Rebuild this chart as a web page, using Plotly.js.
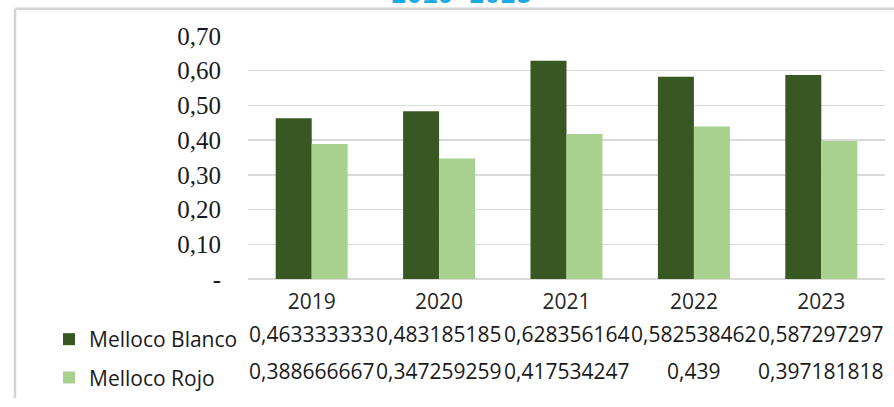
<!DOCTYPE html>
<html>
<head>
<meta charset="utf-8">
<script src="https://cdn.plot.ly/plotly-3.0.1.min.js"></script>
<style>html,body{margin:0;padding:0;background:#fff;}#chart{width:894px;height:407px;}</style>
</head>
<body>
<div id="chart"></div>
<script>
const years = ['2019', '2020', '2021', '2022', '2023'];
const seriesNames = ['Melloco Blanco', 'Melloco Rojo'];
const mellocoBlanco = [0.463333333, 0.483185185, 0.628356164, 0.582538462, 0.587297297];
const mellocoRojo = [0.388666667, 0.347259259, 0.417534247, 0.439, 0.397181818];
const yTickVals = [0, 0.1, 0.2, 0.3, 0.4, 0.5, 0.6, 0.7];
const yTickText = ['-', '0,10', '0,20', '0,30', '0,40', '0,50', '0,60', '0,70'];
const titleText = '2019-2023';

const colors = ['#385723', '#A9D18E'];
const W = 894, H = 407;
const M = {l: 248, r: 9, t: 36, b: 122};
const pw = W - M.l - M.r, ph = H - M.t - M.b;
const px = x => (x - M.l) / pw;
const py = y => (H - M.b - y) / ph;

const fmt = v => String(v).replace('.', ',');
const allSeries = [mellocoBlanco, mellocoRojo];

const traces = allSeries.map((vals, i) => ({
  type: 'bar', x: years, y: vals, name: seriesNames[i],
  marker: {color: colors[i]}, legendgroup: 'g' + i,
  hoverinfo: 'skip'
}));

const annotations = [];
const rowY = [341, 379];
allSeries.forEach((vals, i) => {
  vals.forEach((v, j) => {
    annotations.push({
      x: j, xref: 'x', y: py(rowY[i]), yref: 'paper',
      text: fmt(v), showarrow: false, xanchor: 'center', yanchor: 'middle',
      font: {family: 'Open Sans, sans-serif', size: 21, color: '#1a1a1a'}
    });
  });
});
annotations.push({
  x: px(461), xref: 'paper', y: py(12), yref: 'paper', text: '<b>' + titleText + '</b>',
  showarrow: false, xanchor: 'center', yanchor: 'bottom',
  font: {family: 'Liberation Mono, Courier New, monospace', size: 26, color: '#1BA9E1'}
});

const layout = {
  width: W, height: H, margin: M,
  paper_bgcolor: '#fff', plot_bgcolor: '#fff',
  barmode: 'group', bargap: 0.435, bargroupgap: 0,
  showlegend: true,
  legend: {
    x: px(49), y: py(326), xanchor: 'left', yanchor: 'top',
    font: {family: 'Open Sans, sans-serif', size: 21, color: '#1a1a1a'},
    traceorder: 'grouped', tracegroupgap: 8, bgcolor: 'rgba(0,0,0,0)'
  },
  xaxis: {
    type: 'category', range: [-0.5, 4.5], autorange: false,
    showgrid: false, zeroline: false, showline: false,
    ticks: '', tickfont: {family: 'Open Sans, sans-serif', size: 21, color: '#262626'},
    ticklabelstandoff: 8
  },
  yaxis: {
    range: [0, 0.7], autorange: false, tickvals: yTickVals, ticktext: yTickText,
    showgrid: true, gridcolor: '#d9d9d9', gridwidth: 1.5,
    zeroline: true, zerolinecolor: '#d9d9d9', zerolinewidth: 1.5,
    showline: false, ticks: '',
    tickfont: {family: 'Liberation Serif, Times New Roman, serif', size: 25, color: '#1a1a1a'},
    ticklabelstandoff: 26
  },
  shapes: [
    {type: 'line', xref: 'paper', yref: 'paper', x0: px(15), x1: px(894), y0: py(8), y1: py(8), line: {color: '#d4d4d4', width: 2.5}},
    {type: 'line', xref: 'paper', yref: 'paper', x0: px(15), x1: px(15), y0: py(8), y1: py(407), line: {color: '#d4d4d4', width: 2.5}}
  ],
  annotations: annotations
};

Plotly.newPlot('chart', traces, layout, {displayModeBar: false, staticPlot: true});
</script>
</body>
</html>
